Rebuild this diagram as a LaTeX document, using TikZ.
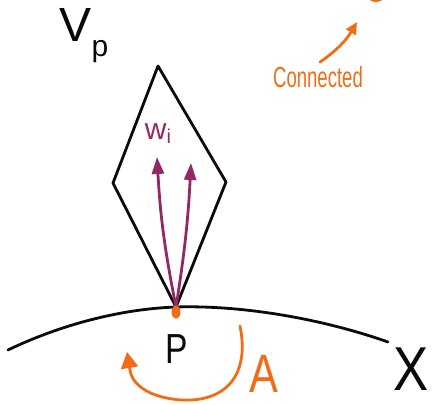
\documentclass[tikz,border=0pt]{standalone}
\usepackage{fontspec}
\setmainfont{Liberation Sans}
\usepackage{tikz}
\usetikzlibrary{
  arrows.meta,
  positioning
}
\definecolor{blaze}{RGB}{242,108,24}
\definecolor{plum}{RGB}{146,40,100}
\definecolor{ink}{RGB}{10,10,10}

\begin{document}
\begin{tikzpicture}[x=1pt, y=-1pt, line cap=round, line join=round, every node/.style={inner sep=0pt},
    sketch/.style={line width=2.8pt, ink},
    vec/.style={line width=2.8pt, plum, -{Triangle[length=17pt,width=12pt]}},
    hint/.style={line width=2.8pt, blaze}]
            \useasboundingbox (0,0) rectangle (433,404);

            \coordinate (p) at (176,307);
            \coordinate (xl) at (8,350);
            \coordinate (xr) at (388,342);
            \coordinate (dtop) at (158,66);
            \coordinate (dleft) at (113,183);
            \coordinate (dright) at (226,182);
            \coordinate (w1) at (157,157);
            \coordinate (w2) at (191,163);
            \coordinate (astart) at (240,326);
            \coordinate (ashaft) at (130,370);
            \coordinate (aend) at (127,352);
            \coordinate (ctip) at (357,22);

            \draw[sketch] (xl) .. controls (60,325) and (120,309) .. (p) .. controls (240,305) and (320,318) .. (xr);
            \draw[sketch] (dtop) -- (dright) -- (p) -- (dleft) -- cycle;
            \draw[vec] (p) to[bend left=4] (w1);
            \draw[vec] (p) to[bend right=3] (w2);
            \fill[blaze] (176,312) ellipse (4.5 and 6.5);
            \fill[blaze] (376,-2) ellipse (7 and 4);

            \node[text=ink, font=\fontsize{48}{48}\selectfont] (vp) at (84,36) {V\raisebox{-15pt}{\fontsize{30}{30}\selectfont p}};
            \node[text=plum, font=\fontsize{30}{30}\selectfont] (wi) at (158,134) {w\raisebox{-4pt}{\fontsize{20}{20}\selectfont i}};
            \node[text=ink, font=\fontsize{42}{42}\selectfont] (pt) at (177,349) {\scalebox{0.8}[1]{P}};
            \node[text=ink, font=\fontsize{62}{62}\selectfont] (xx) at (411,369) {\scalebox{0.85}[1]{X}};
            \node[text=blaze, font=\fontsize{54}{54}\selectfont] (alabel) at (264,374) {\scalebox{0.8}[1]{A}};
            \node[text=blaze, font=\fontsize{29}{29}\selectfont] (conn) at (318,77) {\scalebox{0.64}[1]{Connected}};

            \draw[hint] (astart) .. controls (250,375) and (226,402) .. (182,400) .. controls (150,398) and (132,385) .. (ashaft);
            \draw[hint, -{Triangle[length=16pt,width=17pt]}] (ashaft) -- (aend);
            \draw[hint, -{Triangle[length=12pt,width=11pt]}] ([xshift=2pt,yshift=4pt]conn.north) to[bend right=12] (ctip);
        \end{tikzpicture}
\end{document}
